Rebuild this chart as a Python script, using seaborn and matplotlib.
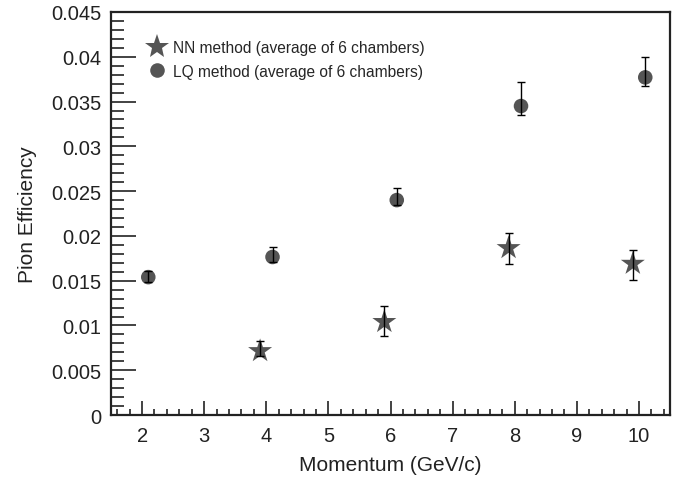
import numpy as np
import pandas as pd
import seaborn as sns
from matplotlib import pyplot as plt
from matplotlib.ticker import MultipleLocator

# NN method (stars)
nn_p = [3.9, 5.9, 7.9, 9.9]
nn_eff = [0.00715, 0.0104, 0.01865, 0.0169]
nn_err_lo = [0.00055, 0.0016, 0.0018, 0.0018]
nn_err_hi = [0.0011, 0.0018, 0.0017, 0.0015]

# LQ method (circles)
lq_p = [2.1, 4.1, 6.1, 8.1, 10.1]
lq_eff = [0.0154, 0.01765, 0.0240, 0.0345, 0.0377]
lq_err_lo = [0.0006, 0.0006, 0.0006, 0.0010, 0.0010]
lq_err_hi = [0.0007, 0.0011, 0.0013, 0.0027, 0.0023]

nn_label = 'NN method (average of 6 chambers)'
lq_label = 'LQ method (average of 6 chambers)'

df = pd.DataFrame({
    'p': nn_p + lq_p,
    'eff': nn_eff + lq_eff,
    'method': [nn_label] * len(nn_p) + [lq_label] * len(lq_p),
})

sns.set_style("ticks")
plt.rcParams['font.family'] = ['Liberation Sans', 'DejaVu Sans']

fig = plt.figure(figsize=(6.81, 4.81), dpi=100)
ax = fig.add_axes([0.163, 0.135, 0.821, 0.838])

ax.errorbar(nn_p, nn_eff, yerr=[nn_err_lo, nn_err_hi], fmt='none',
            ecolor='black', elinewidth=1, capsize=3, capthick=1, zorder=3)
ax.errorbar(lq_p, lq_eff, yerr=[lq_err_lo, lq_err_hi], fmt='none',
            ecolor='black', elinewidth=1, capsize=3, capthick=1, zorder=3)

sns.scatterplot(data=df, x='p', y='eff', style='method', hue='method',
                palette=['#555555', '#555555'],
                markers={nn_label: '*', lq_label: 'o'},
                size='method', sizes={nn_label: 330, lq_label: 110},
                edgecolor='none', linewidth=0, ax=ax, zorder=2)

ax.set_xlim(1.5, 10.5)
ax.set_ylim(0, 0.045)
ax.xaxis.set_major_locator(MultipleLocator(1))
ax.xaxis.set_minor_locator(MultipleLocator(0.2))
ax.yaxis.set_minor_locator(MultipleLocator(0.001))
ax.set_yticks(np.arange(0, 0.0451, 0.005))
ax.set_yticklabels(['0', '0.005', '0.01', '0.015', '0.02', '0.025',
                    '0.03', '0.035', '0.04', '0.045'])

ax.tick_params(axis='both', which='both', direction='in', labelsize=14.5,
               color='#222222', labelcolor='#222222')
ax.tick_params(axis='y', which='major', length=18, width=1.2, pad=7)
ax.tick_params(axis='y', which='minor', length=9, width=1.2)
ax.tick_params(axis='x', which='major', length=10, width=1.2, pad=8)
ax.tick_params(axis='x', which='minor', length=4, width=1.2)

for s in ax.spines.values():
    s.set_linewidth(1.6)
    s.set_color('#222222')

ax.set_xlabel('Momentum (GeV/c)', fontsize=15, color='#222222', labelpad=7)
ax.set_ylabel('Pion Efficiency', fontsize=15, color='#222222', labelpad=10)

handles, labels = ax.get_legend_handles_labels()
leg = ax.legend(handles, labels, loc='upper left', bbox_to_anchor=(0.029, 0.965),
                frameon=False, fontsize=11.2, handletextpad=0.05,
                labelspacing=0.55, markerscale=1.0)

fig.savefig('out.png', dpi=100)
